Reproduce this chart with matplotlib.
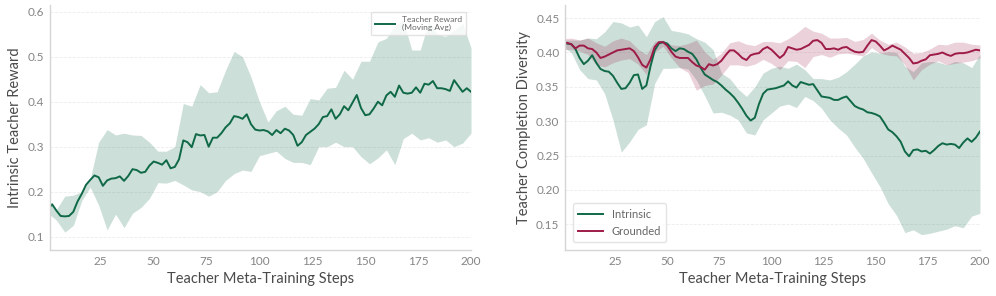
import numpy as np
import matplotlib
matplotlib.use("Agg")
import matplotlib.pyplot as plt

plt.rcParams['font.family'] = ['Lato', 'DejaVu Sans']

# training steps (moving-average line sampled every 2 steps, bands every 4)
steps_line = np.arange(0, 201, 2)
steps_band = np.arange(0, 201, 4)

# left panel: intrinsic teacher reward
reward_mean = [
    0.160, 0.172, 0.158, 0.146, 0.145, 0.146, 0.155, 0.178, 0.195, 0.215,
    0.226, 0.236, 0.232, 0.213, 0.225, 0.229, 0.230, 0.234, 0.224, 0.235,
    0.250, 0.248, 0.242, 0.244, 0.258, 0.267, 0.264, 0.260, 0.270, 0.252,
    0.255, 0.272, 0.314, 0.310, 0.299, 0.328, 0.325, 0.326, 0.300, 0.320,
    0.320, 0.330, 0.343, 0.352, 0.368, 0.366, 0.362, 0.372, 0.350, 0.338,
    0.336, 0.337, 0.334, 0.326, 0.337, 0.330, 0.340, 0.336, 0.326, 0.302,
    0.310, 0.326, 0.333, 0.340, 0.350, 0.366, 0.368, 0.383, 0.362, 0.372,
    0.390, 0.381, 0.398, 0.415, 0.386, 0.370, 0.372, 0.385, 0.400, 0.392,
    0.414, 0.422, 0.411, 0.436, 0.420, 0.418, 0.420, 0.432, 0.420, 0.440,
    0.438, 0.446, 0.430, 0.430, 0.428, 0.424, 0.448, 0.435, 0.422, 0.430,
    0.422]
reward_upper = [
    0.182, 0.160, 0.190, 0.192, 0.200, 0.228, 0.310, 0.338, 0.326, 0.330,
    0.326, 0.325, 0.310, 0.290, 0.290, 0.300, 0.396, 0.390, 0.438, 0.420,
    0.422, 0.470, 0.512, 0.500, 0.455, 0.400, 0.355, 0.380, 0.390, 0.372,
    0.370, 0.407, 0.404, 0.430, 0.432, 0.470, 0.450, 0.490, 0.490, 0.533,
    0.541, 0.570, 0.580, 0.515, 0.515, 0.578, 0.550, 0.545, 0.559, 0.574,
    0.520]
reward_lower = [
    0.152, 0.137, 0.110, 0.125, 0.180, 0.210, 0.170, 0.115, 0.150, 0.120,
    0.152, 0.165, 0.185, 0.220, 0.219, 0.225, 0.215, 0.204, 0.200, 0.190,
    0.200, 0.225, 0.240, 0.248, 0.245, 0.280, 0.285, 0.290, 0.274, 0.265,
    0.265, 0.260, 0.300, 0.300, 0.310, 0.300, 0.300, 0.278, 0.262, 0.275,
    0.293, 0.260, 0.318, 0.330, 0.315, 0.320, 0.310, 0.315, 0.300, 0.308,
    0.330]

# right panel: teacher completion diversity
intrinsic_mean = [
    0.413, 0.413, 0.412, 0.405, 0.392, 0.383, 0.388, 0.396, 0.385, 0.376,
    0.373, 0.372, 0.366, 0.356, 0.347, 0.348, 0.356, 0.367, 0.368, 0.347,
    0.352, 0.380, 0.403, 0.413, 0.415, 0.413, 0.406, 0.402, 0.406, 0.405,
    0.401, 0.398, 0.390, 0.378, 0.368, 0.364, 0.360, 0.357, 0.352, 0.346,
    0.341, 0.335, 0.327, 0.318, 0.308, 0.301, 0.305, 0.325, 0.340, 0.346,
    0.347, 0.348, 0.350, 0.352, 0.358, 0.352, 0.349, 0.357, 0.355, 0.353,
    0.354, 0.345, 0.336, 0.335, 0.334, 0.331, 0.331, 0.334, 0.336, 0.329,
    0.322, 0.319, 0.317, 0.313, 0.312, 0.310, 0.307, 0.298, 0.288, 0.284,
    0.278, 0.270, 0.256, 0.249, 0.258, 0.259, 0.256, 0.257, 0.253, 0.258,
    0.264, 0.268, 0.266, 0.267, 0.266, 0.261, 0.269, 0.275, 0.270, 0.276,
    0.285]
intrinsic_upper = [
    0.418, 0.418, 0.418, 0.421, 0.420, 0.430, 0.445, 0.443, 0.437, 0.440,
    0.423, 0.445, 0.452, 0.432, 0.430, 0.427, 0.420, 0.415, 0.404, 0.370,
    0.362, 0.347, 0.336, 0.350, 0.370, 0.377, 0.380, 0.377, 0.383, 0.375,
    0.362, 0.362, 0.360, 0.364, 0.372, 0.383, 0.395, 0.401, 0.399, 0.401,
    0.400, 0.380, 0.372, 0.385, 0.387, 0.386, 0.382, 0.387, 0.385, 0.378,
    0.397]
intrinsic_lower = [
    0.408, 0.400, 0.375, 0.362, 0.360, 0.340, 0.302, 0.255, 0.270, 0.288,
    0.295, 0.355, 0.377, 0.377, 0.378, 0.376, 0.360, 0.337, 0.312, 0.313,
    0.309, 0.302, 0.283, 0.280, 0.302, 0.312, 0.322, 0.325, 0.320, 0.336,
    0.330, 0.319, 0.302, 0.290, 0.280, 0.262, 0.246, 0.225, 0.205, 0.180,
    0.163, 0.138, 0.142, 0.135, 0.137, 0.140, 0.143, 0.148, 0.145, 0.162,
    0.166]

grounded_mean = [
    0.414, 0.414, 0.412, 0.406, 0.410, 0.410, 0.406, 0.405, 0.400, 0.392,
    0.394, 0.397, 0.400, 0.403, 0.404, 0.405, 0.406, 0.402, 0.393, 0.382,
    0.378, 0.390, 0.408, 0.415, 0.415, 0.410, 0.401, 0.394, 0.392, 0.392,
    0.392, 0.386, 0.381, 0.379, 0.375, 0.383, 0.381, 0.383, 0.388, 0.396,
    0.403, 0.403, 0.398, 0.392, 0.389, 0.396, 0.398, 0.399, 0.405, 0.408,
    0.404, 0.398, 0.392, 0.397, 0.408, 0.406, 0.404, 0.405, 0.408, 0.411,
    0.417, 0.418, 0.414, 0.405, 0.405, 0.406, 0.404, 0.407, 0.408, 0.404,
    0.401, 0.400, 0.401, 0.410, 0.418, 0.416, 0.410, 0.403, 0.406, 0.410,
    0.407, 0.404, 0.398, 0.392, 0.384, 0.385, 0.388, 0.390, 0.396, 0.397,
    0.398, 0.400, 0.397, 0.395, 0.398, 0.399, 0.399, 0.400, 0.402, 0.404,
    0.403]
grounded_upper = [
    0.420, 0.421, 0.418, 0.421, 0.414, 0.409, 0.417, 0.421, 0.417, 0.405,
    0.397, 0.416, 0.418, 0.411, 0.410, 0.413, 0.418, 0.401, 0.390, 0.399,
    0.414, 0.417, 0.412, 0.410, 0.416, 0.416, 0.414, 0.420, 0.428, 0.438,
    0.431, 0.428, 0.421, 0.421, 0.422, 0.416, 0.419, 0.428, 0.418, 0.412,
    0.415, 0.408, 0.399, 0.400, 0.405, 0.412, 0.411, 0.415, 0.415, 0.412,
    0.411]
grounded_lower = [
    0.405, 0.404, 0.402, 0.397, 0.382, 0.379, 0.385, 0.389, 0.391, 0.383,
    0.368, 0.400, 0.409, 0.392, 0.378, 0.371, 0.345, 0.352, 0.354, 0.367,
    0.382, 0.382, 0.380, 0.383, 0.390, 0.384, 0.375, 0.388, 0.387, 0.378,
    0.394, 0.397, 0.393, 0.398, 0.399, 0.397, 0.395, 0.407, 0.399, 0.396,
    0.395, 0.382, 0.360, 0.375, 0.383, 0.388, 0.382, 0.384, 0.386, 0.388,
    0.392]

x_ticks = [25, 50, 75, 100, 125, 150, 175, 200]
left_yticks = [0.1, 0.2, 0.3, 0.4, 0.5, 0.6]
right_yticks = [0.15, 0.20, 0.25, 0.30, 0.35, 0.40, 0.45]

GREEN = '#0f6947'
RED = '#9e1b47'


def style_axes(ax):
    for side in ['top', 'right']:
        ax.spines[side].set_visible(False)
    for side in ['left', 'bottom']:
        ax.spines[side].set_color('#d6d6d6')
        ax.spines[side].set_linewidth(1.0)
    ax.grid(axis='y', color='#ececec', linestyle='--', linewidth=0.6)
    ax.set_axisbelow(True)
    ax.tick_params(length=0, labelsize=8.5, labelcolor='#858585', pad=4)
    ax.set_xlim(1, 200)
    ax.set_xticks(x_ticks)
    ax.set_xlabel('Teacher Meta-Training Steps', fontsize=10.5, color='#4a4a4a', labelpad=4)


fig = plt.figure(figsize=(9.96, 2.96), dpi=100)
ax1 = fig.add_axes([0.0502, 0.155, 0.4227, 0.828])
ax2 = fig.add_axes([0.5673, 0.155, 0.4166, 0.828])

# left panel
ax1.fill_between(steps_band, reward_lower, reward_upper, color=GREEN, alpha=0.21, linewidth=0)
ax1.plot(steps_line, reward_mean, color=GREEN, linewidth=1.4, label='Teacher Reward\n(Moving Avg)')
ax1.set_ylim(0.07, 0.615)
ax1.set_yticks(left_yticks)
ax1.set_yticklabels([f'{v:.1f}' for v in left_yticks])
style_axes(ax1)
ax1.set_ylabel('Intrinsic Teacher Reward', fontsize=10.5, color='#4a4a4a', labelpad=4)
leg1 = ax1.legend(loc='upper right', fontsize=6, frameon=True, handlelength=2.4,
                  borderpad=0.5, bbox_to_anchor=(0.999, 0.99))
leg1.get_frame().set_edgecolor('#dddddd')
for t in leg1.get_texts():
    t.set_color('#666666')

# right panel
ax2.fill_between(steps_band, intrinsic_lower, intrinsic_upper, color=GREEN, alpha=0.21, linewidth=0)
ax2.fill_between(steps_band, grounded_lower, grounded_upper, color=RED, alpha=0.2, linewidth=0)
ax2.plot(steps_line, intrinsic_mean, color=GREEN, linewidth=1.4, label='Intrinsic')
ax2.plot(steps_line, grounded_mean, color=RED, linewidth=1.4, label='Grounded')
ax2.set_ylim(0.1125, 0.469)
ax2.set_yticks(right_yticks)
ax2.set_yticklabels([f'{v:.2f}' for v in right_yticks])
style_axes(ax2)
ax2.set_ylabel('Teacher Completion Diversity', fontsize=10.5, color='#4a4a4a', labelpad=4)
leg2 = ax2.legend(loc='lower left', fontsize=8, frameon=True, handlelength=2.2,
                  borderpad=0.5, bbox_to_anchor=(0.005, 0.01))
leg2.get_frame().set_edgecolor('#dddddd')
for t in leg2.get_texts():
    t.set_color('#666666')

fig.savefig('out.png', dpi=100)
